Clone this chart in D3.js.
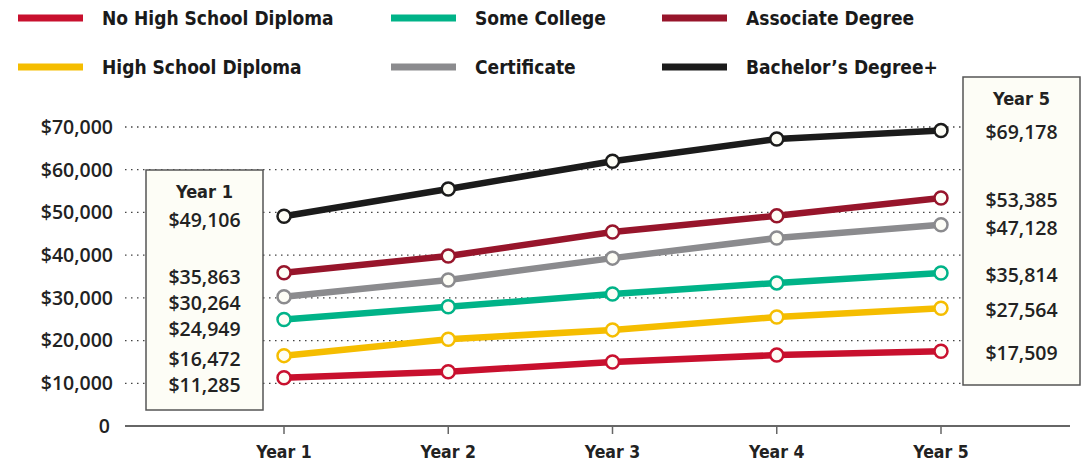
<!DOCTYPE html>
<html>
<head>
<meta charset="utf-8">
<script src="https://cdn.jsdelivr.net/npm/d3@7"></script>
<style>
  body { margin: 0; background: #fff; }
  .cond { font-family: "Liberation Sans Narrow", "DejaVu Sans Condensed", sans-serif; font-weight: bold; }
  .num { font-family: "Open Sans", sans-serif; font-weight: 600; }
</style>
</head>
<body>
<div id="chart"></div>
<script>

// data
let years = ["Year 1", "Year 2", "Year 3", "Year 4", "Year 5"];
let seriesNames = ["No High School Diploma", "Some College", "Associate Degree",
	"High School Diploma", "Certificate", "Bachelor’s Degree+"];
let seriesColors = ["#c8102e", "#00b388", "#97152b", "#f5bd00", "#8b8b8e", "#1b1b1b"];
let noHighSchool = [11285, 12700, 15000, 16600, 17509];
let someCollege = [24949, 27900, 30900, 33500, 35814];
let associate = [35863, 39800, 45400, 49200, 53385];
let highSchool = [16472, 20300, 22500, 25500, 27564];
let certificate = [30264, 34200, 39300, 44000, 47128];
let bachelors = [49106, 55500, 62000, 67200, 69178];
let yTicks = [0, 10000, 20000, 30000, 40000, 50000, 60000, 70000];

let allSeries = [noHighSchool, someCollege, associate, highSchool, certificate, bachelors];

let width = 1087, height = 462;
let svg = d3.select("#chart").append("svg")
	.attr("width", width)
	.attr("height", height);

let xScale = d3.scalePoint().domain(years).range([284, 941]);
let yScale = d3.scaleLinear().domain([0, 70000]).range([426, 127]);
let fmt = d3.format("$,");

// grid
svg.append("g")
	.selectAll("line")
	.data(yTicks.filter(d => d > 0))
	.join("line")
	.attr("x1", 125).attr("x2", 1070)
	.attr("y1", d => yScale(d)).attr("y2", d => yScale(d))
	.attr("stroke", "#444")
	.attr("stroke-width", 1.3)
	.attr("stroke-dasharray", "1.5,4.5");

// y labels
svg.append("g")
	.selectAll("text")
	.data(yTicks)
	.join("text")
	.attr("class", "num")
	.attr("x", d => d == 0 ? 110 : 113)
	.attr("y", d => yScale(d))
	.attr("dy", "0.35em")
	.attr("text-anchor", "end")
	.attr("font-size", 19.5)
	.attr("fill", "#222")
	.text(d => d == 0 ? "0" : fmt(d));

// x axis
svg.append("line")
	.attr("x1", 125).attr("x2", 1070)
	.attr("y1", yScale(0)).attr("y2", yScale(0))
	.attr("stroke", "#666").attr("stroke-width", 2);
svg.append("g")
	.selectAll("line")
	.data(years)
	.join("line")
	.attr("x1", d => xScale(d)).attr("x2", d => xScale(d))
	.attr("y1", yScale(0)).attr("y2", yScale(0) + 8)
	.attr("stroke", "#666").attr("stroke-width", 1.5);
svg.append("g")
	.selectAll("text")
	.data(years)
	.join("text")
	.attr("class", "cond")
	.attr("x", d => xScale(d))
	.attr("y", 458)
	.attr("text-anchor", "middle")
	.attr("font-size", 17.5)
	.attr("fill", "#222")
	.text(d => d);

// boxes
function drawBox(x, y, w, h, title, yearIdx, offset, gap) {
	svg.append("rect")
		.attr("x", x).attr("y", y).attr("width", w).attr("height", h)
		.attr("fill", "#fdfdf6").attr("stroke", "#555").attr("stroke-width", 1.5);
	svg.append("text")
		.attr("class", "cond")
		.attr("x", x + w / 2).attr("y", y + 28)
		.attr("text-anchor", "middle")
		.attr("font-size", 18).attr("fill", "#222")
		.text(title);
	let vals = allSeries.map(s => s[yearIdx]).sort((a, b) => b - a);
	let last = -1000;
	vals.forEach(v => {
		let ly = Math.max(yScale(v) + offset, last + gap);
		last = ly;
		svg.append("text")
			.attr("class", "num")
			.attr("x", x + w / 2).attr("y", ly)
			.attr("dy", "0.35em")
			.attr("text-anchor", "middle")
			.attr("font-size", 19.5).attr("fill", "#222")
			.text(fmt(v));
	});
}
drawBox(146, 170, 117, 240, "Year 1", 0, 4, 26);
drawBox(963, 77, 117, 308, "Year 5", 4, 2, 28);

// lines
let line = d3.line()
	.x((d, i) => xScale(years[i]))
	.y(d => yScale(d));

allSeries.forEach((s, k) => {
	svg.append("path")
		.datum(s)
		.attr("d", line)
		.attr("fill", "none")
		.attr("stroke", seriesColors[k])
		.attr("stroke-width", 6.5);
});
allSeries.forEach((s, k) => {
	svg.append("g")
		.selectAll("circle")
		.data(s)
		.join("circle")
		.attr("cx", (d, i) => xScale(years[i]))
		.attr("cy", d => yScale(d))
		.attr("r", 6.5)
		.attr("fill", "#fdfdf6")
		.attr("stroke", seriesColors[k])
		.attr("stroke-width", 2.5);
});

// legend
let legendX = [18, 391, 662];
let legendY = [18, 67];
seriesNames.forEach((name, k) => {
	let col = k % 3, row = Math.floor(k / 3);
	let g = svg.append("g").attr("transform", `translate(${legendX[col]}, ${legendY[row]})`);
	g.append("rect")
		.attr("x", 0).attr("y", -3.5).attr("width", 65).attr("height", 7)
		.attr("fill", seriesColors[k]);
	g.append("text")
		.attr("class", "cond")
		.attr("x", 84).attr("y", 0)
		.attr("dy", "0.35em")
		.attr("font-size", 19).attr("fill", "#1a1a1a")
		.text(name);
});
</script>
</body>
</html>
